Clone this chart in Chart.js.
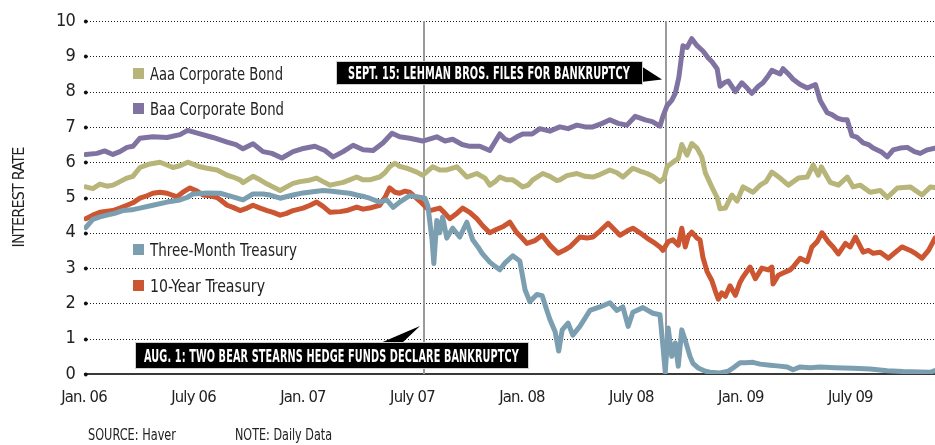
<!DOCTYPE html>
<html>
<head>
<meta charset="utf-8">
<script src="https://cdn.jsdelivr.net/npm/chart.js@4.4.1/dist/chart.umd.min.js"></script>
<style>
  html, body { margin: 0; padding: 0; background: #fff; }
  #wrap { position: relative; width: 935px; height: 445px; overflow: hidden;
          font-family: 'Liberation Sans Narrow', 'DejaVu Sans Condensed', 'Roboto', sans-serif; color: #222; }
  #chart { position: absolute; left: 0; top: 0; }
  .lg { position: absolute; font-size: 18px; line-height: 18px; white-space: nowrap; color: #222; }
  .lg i { position: absolute; left: -17px; top: 3px; width: 11px; height: 11px; }
  .lg span, .note span { display: inline-block; transform-origin: 0 0; }
  .box { position: absolute; background: #000; box-shadow: 0 0 0 1px #cfcfcf; }
  .box span { position: absolute; color: #fff; font-weight: bold; font-size: 17px; line-height: 17px;
              white-space: nowrap; transform-origin: 0 0; letter-spacing: 0.2px; }
  .note { position: absolute; font-size: 15px; line-height: 18px; white-space: nowrap; color: #222; }
  svg { position: absolute; left: 0; top: 0; }
</style>
</head>
<body>
<div id="wrap">
  <canvas id="chart" width="935" height="445"></canvas>
  <svg width="935" height="445">
    <polygon points="641,66 662,79.5 641,82" fill="#000"/>
    <polygon points="378,344 420,326 401,344" fill="#000"/>
  </svg>
  <div class="box" style="left:337px;top:62px;width:305px;height:22px;">
    <span data-w="282" style="left:11px;top:3px;">SEPT. 15: LEHMAN BROS. FILES FOR BANKRUPTCY</span>
  </div>
  <div class="box" style="left:136px;top:343px;width:392px;height:25px;">
    <span data-w="375" style="left:8px;top:5px;">AUG. 1: TWO BEAR STEARNS HEDGE FUNDS DECLARE BANKRUPTCY</span>
  </div>
  <div class="note" style="left:88px;top:426px;"><span data-w="88">SOURCE: Haver</span></div>
  <div class="note" style="left:235px;top:426px;"><span data-w="97">NOTE: Daily Data</span></div>
</div>
<script>
// ---------- data (x = days since 1 Jan 2006, y = interest rate %) ----------
const SERIES_NAMES  = ['Aaa Corporate Bond', 'Baa Corporate Bond', 'Three-Month Treasury', '10-Year Treasury'];
const SERIES_COLORS = ['#b7b57a', '#8073a2', '#7b9fb0', '#cc5532'];
const X_TICK_LABELS = ['Jan. 06', 'July 06', 'Jan. 07', 'July 07', 'Jan. 08', 'July 08', 'Jan. 09', 'July 09'];
const Y_TICKS = [0, 1, 2, 3, 4, 5, 6, 7, 8, 9, 10];
const EVENT_DATES = ['2007-08-01', '2008-09-15'];

const aaaDays = [3,15,27,39,49,61,73,83,95,112,129,141,151,163,176,197,209,226,243,253,265,270,287,299,311,321,333,344,355,367,380,395,406,418,440,451,463,474,485,502,511,519,528,536,548,565,575,592,604,616,633,643,650,667,681,689,698,706,718,728,737,745,754,762,779,791,803,808,820,837,851,864,876,893,905,915,932,944,956,966,978,985,990,1000,1009,1015,1024,1032,1041,1049,1055,1066,1075,1080,1089,1100,1109,1119,1136,1148,1158,1168,1182,1196,1213,1228,1238,1247,1252,1267,1281,1296,1306,1318,1335,1352,1364,1381,1403,1423,1437,1445];
const aaaRates = [5.3,5.25,5.38,5.32,5.35,5.45,5.55,5.6,5.85,5.95,6.0,5.92,5.85,5.9,6.0,5.87,5.83,5.78,5.63,5.58,5.5,5.42,5.6,5.5,5.38,5.3,5.2,5.3,5.4,5.45,5.48,5.55,5.45,5.35,5.43,5.5,5.58,5.5,5.5,5.58,5.7,5.87,5.97,5.88,5.83,5.72,5.63,5.87,5.78,5.78,5.87,5.7,5.58,5.68,5.55,5.35,5.45,5.58,5.5,5.5,5.4,5.3,5.35,5.5,5.68,5.6,5.48,5.5,5.62,5.68,5.6,5.58,5.65,5.78,5.7,5.58,5.83,5.75,5.68,5.6,5.45,5.55,5.87,6.0,6.1,6.5,6.2,6.53,6.4,6.15,5.7,5.3,5.0,4.68,4.7,5.07,4.9,5.3,5.15,5.35,5.45,5.72,5.55,5.35,5.55,5.58,5.92,5.63,5.87,5.43,5.35,5.58,5.3,5.35,5.15,5.2,5.0,5.27,5.3,5.07,5.3,5.28];

const baaDays = [3,22,35,49,61,73,83,95,117,141,163,176,197,219,243,258,270,287,304,319,336,355,370,392,409,423,440,457,474,491,508,523,536,553,575,599,613,626,642,655,672,689,706,715,723,735,745,761,774,791,808,822,837,851,864,880,893,907,922,936,953,965,978,983,990,998,1004,1010,1017,1024,1032,1041,1051,1060,1066,1075,1080,1087,1094,1106,1117,1126,1134,1145,1153,1162,1168,1182,1187,1196,1204,1216,1228,1242,1250,1262,1270,1279,1289,1296,1304,1313,1323,1332,1340,1355,1364,1374,1386,1398,1410,1420,1432,1445];
const baaRates = [6.22,6.25,6.32,6.22,6.3,6.42,6.45,6.68,6.72,6.7,6.78,6.9,6.8,6.7,6.57,6.5,6.38,6.52,6.3,6.25,6.12,6.3,6.38,6.45,6.33,6.15,6.3,6.48,6.35,6.33,6.55,6.82,6.72,6.68,6.6,6.72,6.6,6.65,6.5,6.45,6.45,6.33,6.8,6.65,6.6,6.72,6.8,6.8,6.95,6.88,7.0,6.95,7.05,7.0,7.0,7.1,7.2,7.1,7.05,7.3,7.2,7.15,7.02,7.3,7.6,7.75,7.95,8.4,9.3,9.25,9.5,9.3,9.15,8.95,8.85,8.65,8.15,8.25,8.3,8.0,8.25,8.1,7.95,8.15,8.25,8.45,8.6,8.5,8.65,8.5,8.35,8.2,8.1,8.2,7.75,7.4,7.35,7.25,7.2,7.2,6.75,6.7,6.55,6.5,6.4,6.28,6.15,6.35,6.4,6.42,6.3,6.25,6.35,6.4];

const billDays = [3,15,27,39,52,66,81,95,117,141,163,175,185,209,231,253,270,287,304,316,333,355,372,392,406,421,435,451,463,477,485,502,514,525,536,553,565,579,584,591,594,599,604,609,616,626,638,650,660,669,676,689,698,706,715,728,740,749,757,769,778,786,791,800,806,812,822,830,842,859,876,893,905,915,924,932,949,966,978,983,987,992,998,1004,1009,1015,1021,1029,1034,1043,1055,1063,1080,1094,1102,1114,1123,1136,1148,1165,1177,1194,1204,1216,1233,1250,1276,1306,1335,1364,1391,1420,1437,1445];
const billRates = [4.15,4.38,4.45,4.5,4.55,4.63,4.65,4.7,4.78,4.87,4.93,5.0,5.1,5.13,5.12,5.02,4.93,5.1,5.1,5.07,4.98,5.07,5.13,5.17,5.2,5.18,5.15,5.12,5.07,5.02,4.98,4.87,4.93,4.72,4.87,5.05,5.02,4.98,4.75,3.8,3.13,4.35,4.0,4.45,3.85,4.13,3.88,4.3,3.8,3.6,3.42,3.17,3.05,2.95,3.15,3.35,3.2,2.38,2.05,2.25,2.22,1.8,1.55,1.2,0.65,1.25,1.44,1.1,1.35,1.8,1.9,2.02,1.8,1.9,1.35,1.75,1.88,1.72,1.68,0.8,0.05,1.3,0.5,0.88,0.22,1.25,0.95,0.5,0.3,0.17,0.08,0.05,0.03,0.08,0.17,0.32,0.32,0.33,0.28,0.25,0.23,0.2,0.12,0.2,0.18,0.2,0.18,0.16,0.14,0.09,0.07,0.06,0.05,0.1];

const noteDays = [3,15,27,49,61,73,83,95,107,117,129,141,158,168,180,192,202,214,226,234,243,253,265,277,287,299,311,321,333,344,355,372,384,395,406,418,435,446,463,474,485,502,511,519,528,536,545,553,562,570,579,587,604,613,621,633,643,655,667,677,689,701,711,723,735,744,752,766,778,791,805,817,825,842,854,864,876,890,900,910,922,932,944,956,970,978,983,992,1000,1009,1015,1021,1026,1032,1041,1046,1051,1058,1066,1072,1077,1083,1089,1097,1106,1114,1119,1131,1140,1151,1162,1168,1170,1179,1187,1199,1204,1216,1228,1236,1245,1253,1264,1272,1281,1293,1301,1310,1323,1332,1340,1352,1366,1378,1389,1403,1413,1423,1434,1445];
const noteRates = [4.4,4.5,4.58,4.63,4.7,4.78,4.85,4.98,5.05,5.12,5.15,5.12,5.02,5.15,5.27,5.18,5.07,5.05,5.0,4.9,4.78,4.72,4.63,4.7,4.78,4.7,4.63,4.58,4.5,4.55,4.63,4.7,4.78,4.87,4.75,4.58,4.6,4.63,4.73,4.67,4.7,4.78,5.0,5.27,5.15,5.12,5.18,5.15,5.02,4.9,4.75,4.63,4.7,4.55,4.4,4.55,4.7,4.58,4.4,4.2,4.0,4.1,4.17,4.3,4.0,3.85,3.7,3.78,3.93,3.65,3.42,3.52,3.6,3.88,3.85,3.88,4.05,4.27,4.1,3.93,4.05,4.13,4.0,3.85,3.7,3.6,3.5,3.75,3.8,3.65,4.13,3.6,3.9,4.02,3.85,3.8,3.3,2.9,2.65,2.35,2.12,2.3,2.2,2.5,2.23,2.6,2.75,3.03,2.7,3.0,2.95,3.03,2.55,2.8,2.86,2.95,3.03,3.28,3.18,3.6,3.75,4.0,3.74,3.6,3.4,3.7,3.6,3.88,3.45,3.5,3.42,3.45,3.28,3.45,3.6,3.5,3.4,3.28,3.5,3.85];

// legend layout: text baselines and target text widths (px)
const LEGEND_BASELINES = [80, 115, 256, 292];
const LEGEND_WIDTHS = [133, 134, 147, 115];
// ---------------------------------------------------------------------------

const FONT = "'Liberation Sans Narrow', 'DejaVu Sans Condensed', 'Roboto', sans-serif";
const DAY0 = Date.UTC(2006, 0, 1);
const dayOf = s => { const [y, m, d] = s.split('-').map(Number); return (Date.UTC(y, m - 1, d) - DAY0) / 864e5; };
const toPoints = (days, vals) => days.map((d, i) => ({ x: d, y: vals[i] }));

// legend
const wrap = document.getElementById('wrap');
SERIES_NAMES.forEach((name, i) => {
  const el = document.createElement('div');
  el.className = 'lg';
  el.style.left = '150px';
  el.style.top = (LEGEND_BASELINES[i] - 15) + 'px';
  el.innerHTML = '<i style="background:' + SERIES_COLORS[i] + '"></i><span data-w="' + LEGEND_WIDTHS[i] + '">' + name + '</span>';
  wrap.appendChild(el);
});

// condense text horizontally to the reference widths
document.querySelectorAll('span[data-w]').forEach(sp => {
  const w = sp.getBoundingClientRect().width;
  sp.style.transform = 'scaleX(' + (Number(sp.dataset.w) / w) + ')';
});

const refGrid = {
  id: 'refGrid',
  beforeDraw(chart) {
    // tighter tick lettering, closer to the condensed face of the original
    chart.ctx.letterSpacing = '-0.8px';
  },
  beforeDatasetsDraw(chart) {
    const { ctx, chartArea: { left, right, top, bottom }, scales: { x, y } } = chart;
    ctx.save();
    Y_TICKS.forEach(v => {
      const py = Math.round(y.getPixelForValue(v));
      ctx.beginPath();
      if (v === 0) {
        ctx.setLineDash([]);
        ctx.strokeStyle = '#3a3a3a';
        ctx.lineWidth = 2;
        ctx.moveTo(left, py); ctx.lineTo(right, py);
      } else {
        ctx.setLineDash([1, 2]);
        ctx.strokeStyle = '#1a1a1a';
        ctx.lineWidth = 1;
        ctx.moveTo(left, py + 0.5); ctx.lineTo(right, py + 0.5);
      }
      ctx.stroke();
      ctx.setLineDash([]);
      ctx.fillStyle = '#111';
      ctx.beginPath();
      ctx.arc(left + 1.8, py + 0.5, 1.9, 0, Math.PI * 2);
      ctx.fill();
    });
    EVENT_DATES.forEach(s => {
      const px = Math.round(x.getPixelForValue(dayOf(s)));
      ctx.beginPath();
      ctx.strokeStyle = '#9b9b9b';
      ctx.lineWidth = 2;
      ctx.moveTo(px, top); ctx.lineTo(px, bottom);
      ctx.stroke();
    });
    ctx.restore();
  }
};

const mk = (i, days, vals, order) => ({
  label: SERIES_NAMES[i], data: toPoints(days, vals), borderColor: SERIES_COLORS[i],
  backgroundColor: SERIES_COLORS[i], borderWidth: 5, pointRadius: 0, tension: 0,
  borderJoinStyle: 'round', borderCapStyle: 'round', order
});

new Chart(document.getElementById('chart'), {
  type: 'line',
  data: {
    datasets: [
      mk(0, aaaDays, aaaRates, 3),
      mk(1, baaDays, baaRates, 2),
      mk(3, noteDays, noteRates, 1),
      mk(2, billDays, billRates, 0)
    ]
  },
  options: {
    responsive: false, animation: false, devicePixelRatio: 1,
    layout: { padding: { top: 21, right: 0, bottom: 0, left: 0 } },
    plugins: { legend: { display: false }, tooltip: { enabled: false } },
    scales: {
      x: {
        type: 'linear', min: 0, max: 1445,
        grid: { display: false, drawTicks: false }, border: { display: false },
        afterFit: s => { s.height = 71; },
        ticks: {
          stepSize: 185.9, includeBounds: false, autoSkip: false, maxRotation: 0,
          padding: 14, color: '#222', font: { family: FONT, size: 16.5 },
          callback: (v, i) => X_TICK_LABELS[i] ?? ''
        }
      },
      y: {
        min: 0, max: 10,
        grid: { display: false, drawTicks: false }, border: { display: false },
        afterFit: s => { s.width = 84; },
        ticks: { stepSize: 1, padding: 9, color: '#222', font: { family: FONT, size: 18 } },
        title: { display: true, text: 'INTEREST RATE', color: '#222',
                 font: { family: FONT, size: 16 }, padding: { top: 10, bottom: 0 } }
      }
    }
  },
  plugins: [refGrid]
});
</script>
</body>
</html>
